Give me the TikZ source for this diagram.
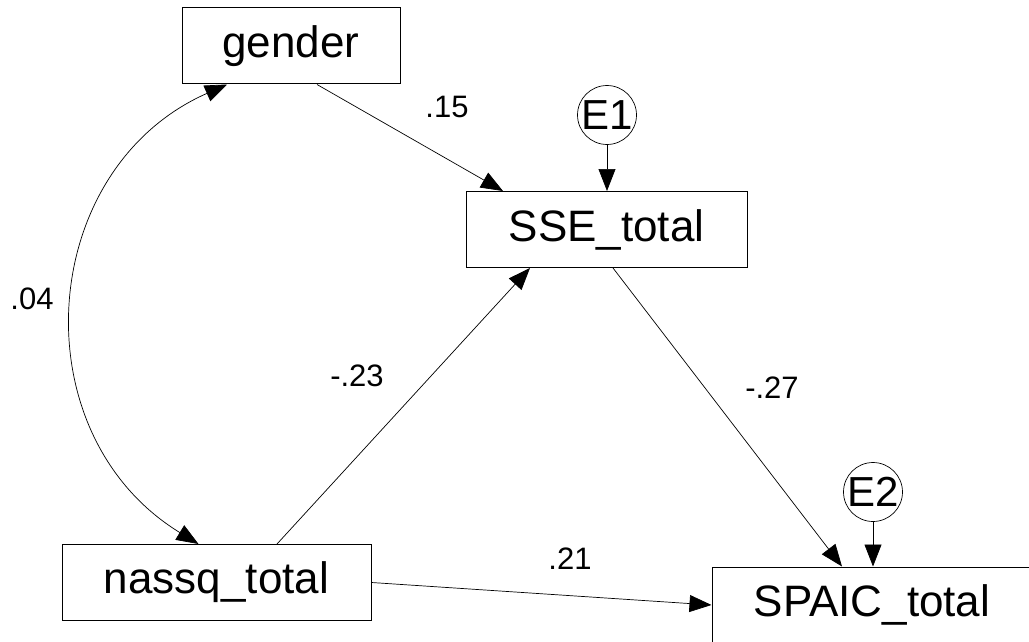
\documentclass[tikz,border=0pt]{standalone}
\usepackage{fontspec}
\setmainfont{Liberation Sans}
\usetikzlibrary{arrows.meta}
\usetikzlibrary{shapes}

\begin{document}
\begin{tikzpicture}[x=1pt, y=-1pt,
    >={Triangle[length=22pt,width=17pt]},
    var/.style={draw, line width=1pt, minimum height=76pt, inner sep=0pt, font=\fontsize{44}{50}\selectfont},
    err/.style={draw, circle, line width=0.7pt, minimum size=58pt, inner sep=0pt, font=\fontsize{42}{48}\selectfont},
    coef/.style={inner sep=0pt, font=\fontsize{31}{36}\selectfont},
    link/.style={line width=0.7pt}]
    \useasboundingbox (0,0) rectangle (1029,642);
    \clip (0,0) rectangle (1029,642);
    \node[var, minimum width=218pt] (gender) at (291,46) {gender};
    \node[var, minimum width=281pt] (SSE) at (606.5,229.5) {SSE\_total};
    \node[var, minimum width=309pt] (nassq) at (216.5,582.5) {nassq\_total};
    \node[var, minimum width=320pt] (SPAIC) at (872,605) {SPAIC\_total};
    \node[err] (E1) at (607,115) {E1};
    \node[err] (E2) at (873,492) {E2};

    \node[coef] (c15) at (447,107) {.15};
    \node[coef] (c04) at (32,299) {.04};
    \node[coef] (c23) at (357,376) {-.23};
    \node[coef] (c27) at (772,388) {-.27};
    \node[coef] (c21) at (570,559) {.21};

    \draw[link, ->] ([xshift=26pt]gender.south) to ([xshift=-103.5pt]SSE.north);
    \draw[link, ->] (E1.south) to (E1.south |- SSE.north);
    \draw[link, ->] ([xshift=60.5pt]nassq.north) to ([xshift=-76.5pt]SSE.south);
    \draw[link, ->] ([xshift=6.5pt]SSE.south) to ([xshift=-30pt]SPAIC.north);
    \draw[link, ->] (E2.south) to (E2.south |- SPAIC.north);
    \draw[link, ->] (nassq.east) to (SPAIC.west);
    \draw[link, <->] ([xshift=-64pt]gender.south) .. controls (36,169) and (19,434) .. ([xshift=-18pt]nassq.north);
\end{tikzpicture}
\end{document}
